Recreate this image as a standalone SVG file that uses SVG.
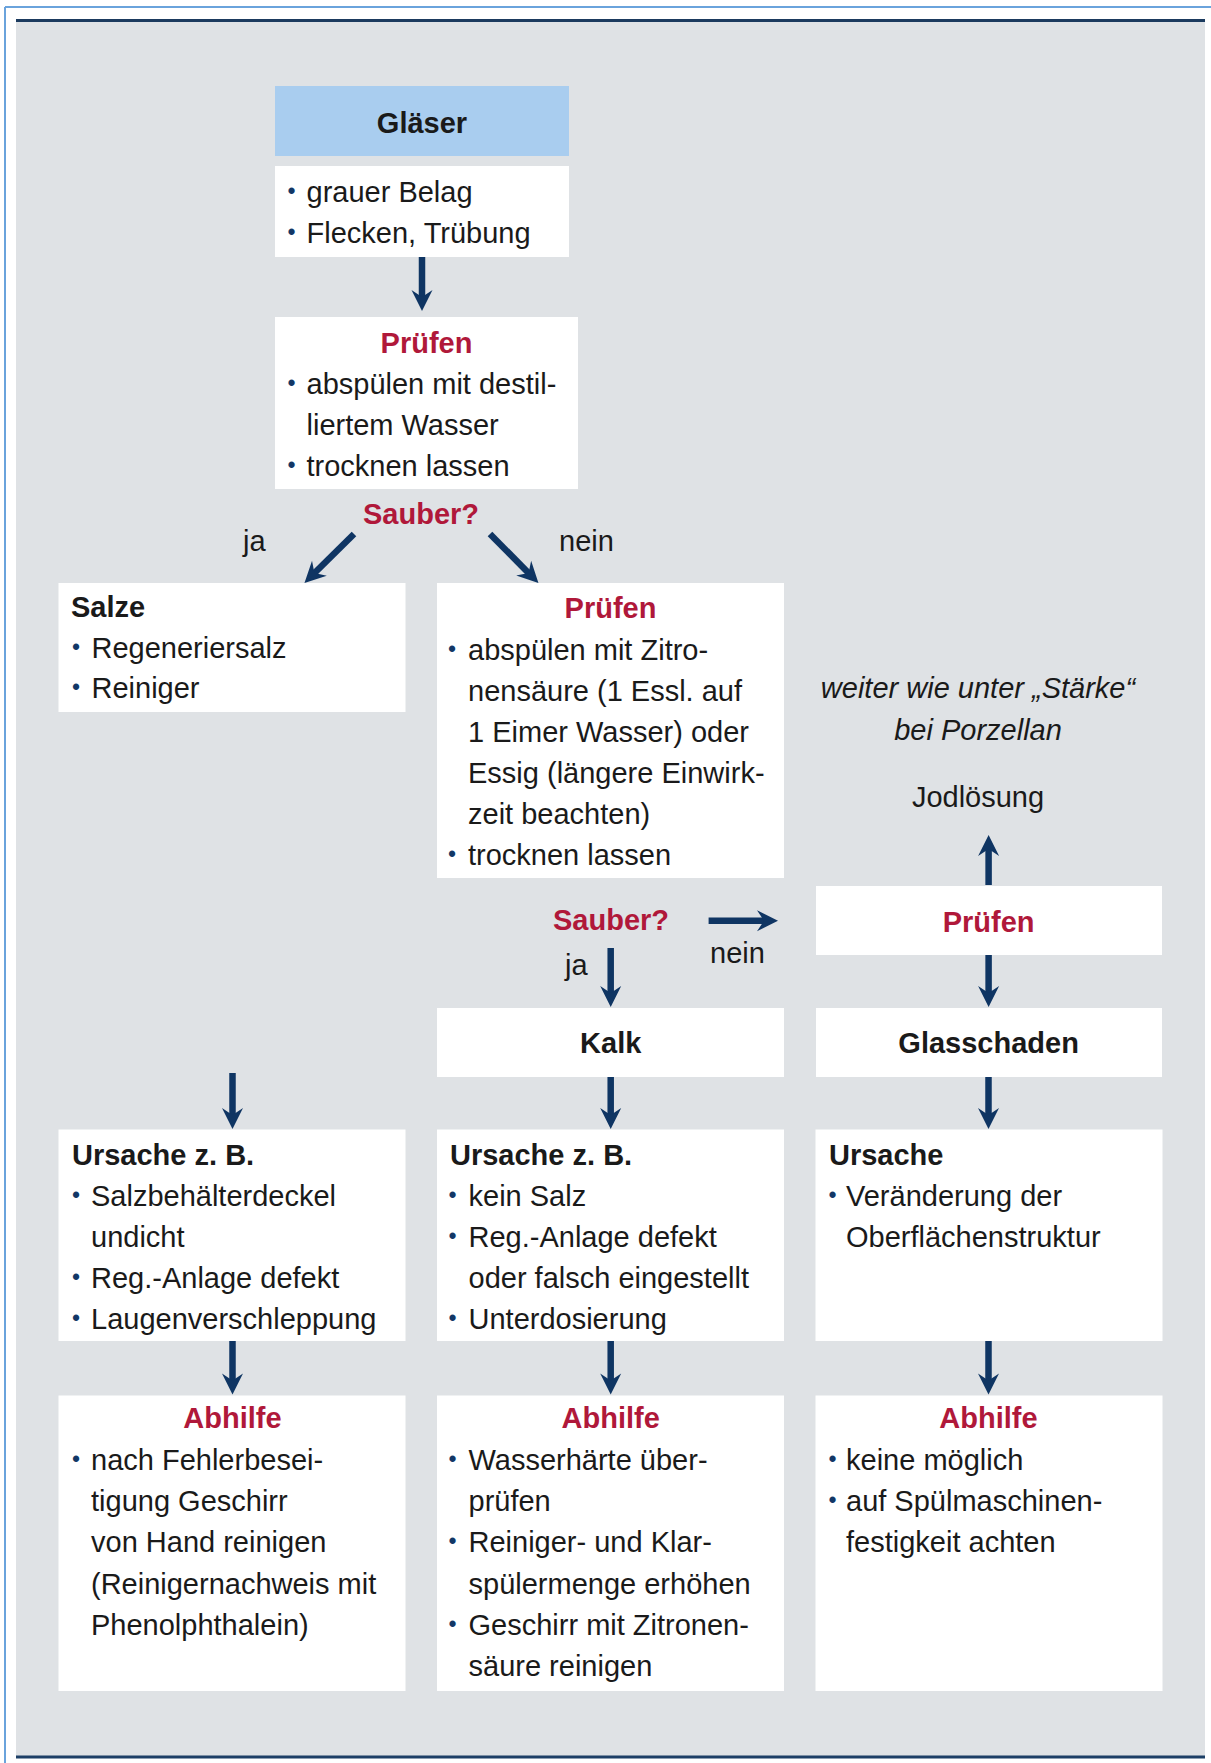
<svg xmlns="http://www.w3.org/2000/svg" width="1211" height="1763" viewBox="0 0 1211 1763">
  <style>
    text { font-family: "Liberation Sans", Arial, sans-serif; font-size: 29px; fill: #1a1a1a; }
    .hd { font-weight: bold; }
    .red { font-weight: bold; fill: #b0183a; }
    .mid { text-anchor: middle; }
    .it { font-style: italic; }
    .bl { font-size: 23px; fill: #123766; }
    .box { fill: #ffffff; }
    .conn { stroke: #0f3563; stroke-width: 6.5; fill: none; marker-end: url(#head); }
  </style>
  <defs>
    <marker id="head" viewBox="-22 -11 22 22" markerWidth="22" markerHeight="22" refX="-12" refY="0" orient="auto" markerUnits="userSpaceOnUse">
      <path d="M0,0 L-21,-10.5 L-14,0 L-21,10.5 Z" fill="#0f3563"/>
    </marker>
  </defs>

  <!-- page frame and panel -->
  <g id="frame">
    <line x1="5" y1="7" x2="1211" y2="7" stroke="#6aa3dc" stroke-width="2"/>
    <line x1="5" y1="7" x2="5" y2="1763" stroke="#6aa3dc" stroke-width="2"/>
    <rect x="16" y="20" width="1189" height="1737" fill="#dfe2e5"/>
    <line x1="16" y1="20.5" x2="1205" y2="20.5" stroke="#1b3a5e" stroke-width="3"/>
    <line x1="16" y1="1757" x2="1205" y2="1757" stroke="#1d3f66" stroke-width="3"/>
  </g>

  <!-- connectors -->
  <g id="connectors">
    <line class="conn" x1="422" y1="257" x2="422" y2="299"/>
    <line class="conn" x1="354" y1="534" x2="313" y2="574.5"/>
    <line class="conn" x1="490" y1="534" x2="530" y2="574.5"/>
    <line class="conn" x1="988.6" y1="885" x2="988.6" y2="847"/>
    <line class="conn" x1="708.6" y1="920.7" x2="766" y2="920.7"/>
    <line class="conn" x1="610.7" y1="948" x2="610.7" y2="995"/>
    <line class="conn" x1="988.6" y1="955" x2="988.6" y2="995"/>
    <line class="conn" x1="232.5" y1="1073" x2="232.5" y2="1117"/>
    <line class="conn" x1="610.7" y1="1077" x2="610.7" y2="1117"/>
    <line class="conn" x1="988.5" y1="1077" x2="988.5" y2="1117"/>
    <line class="conn" x1="232.5" y1="1341" x2="232.5" y2="1382.5"/>
    <line class="conn" x1="610.7" y1="1341" x2="610.7" y2="1382.5"/>
    <line class="conn" x1="988.5" y1="1341" x2="988.5" y2="1382.5"/>
  </g>

  <!-- decision labels -->
  <g id="decision-1">
    <text class="red mid" x="421" y="524">Sauber?</text>
    <text x="243" y="551">ja</text>
    <text x="559" y="551">nein</text>
  </g>
  <g id="decision-2">
    <text class="red mid" x="611" y="930">Sauber?</text>
    <text x="565" y="975">ja</text>
    <text x="710" y="963">nein</text>
  </g>

  <g id="node-glaeser">
    <rect x="275" y="86" width="294" height="70" fill="#a9cdef"/>
    <text class="hd mid" x="422" y="133">Gläser</text>
  </g>

  <g id="node-symptome">
    <rect class="box" x="275" y="166" width="294" height="91"/>
    <text class="bl" x="287.5" y="199">•</text>
    <text x="306.5" y="202">grauer Belag</text>
    <text class="bl" x="287.5" y="240">•</text>
    <text x="306.5" y="243">Flecken, Trübung</text>
  </g>

  <g id="node-pruefen-1">
    <rect class="box" x="275" y="317" width="303" height="172"/>
    <text class="red mid" x="426.5" y="353">Prüfen</text>
    <text class="bl" x="287.5" y="391">•</text>
    <text x="306.5" y="394">abspülen mit destil-</text>
    <text x="306.5" y="435">liertem Wasser</text>
    <text class="bl" x="287.5" y="473">•</text>
    <text x="306.5" y="476">trocknen lassen</text>
  </g>

  <g id="node-salze">
    <rect class="box" x="58.5" y="583" width="347" height="129"/>
    <text class="hd" x="71" y="617">Salze</text>
    <text class="bl" x="72" y="655">•</text>
    <text x="91.5" y="658">Regeneriersalz</text>
    <text class="bl" x="72" y="695">•</text>
    <text x="91.5" y="698">Reiniger</text>
  </g>

  <g id="node-pruefen-2">
    <rect class="box" x="437" y="583" width="347" height="295"/>
    <text class="red mid" x="610.5" y="618">Prüfen</text>
    <text class="bl" x="448" y="657">•</text>
    <text x="468" y="660">abspülen mit Zitro-</text>
    <text x="468" y="701">nensäure (1 Essl. auf</text>
    <text x="468" y="742">1 Eimer Wasser) oder</text>
    <text x="468" y="783">Essig (längere Einwirk-</text>
    <text x="468" y="824">zeit beachten)</text>
    <text class="bl" x="448" y="862">•</text>
    <text x="468" y="865">trocknen lassen</text>
  </g>

  <g id="node-staerke">
    <text class="it mid" x="978" y="698">weiter wie unter „Stärke“</text>
    <text class="it mid" x="978" y="740">bei Porzellan</text>
  </g>

  <g id="node-jodloesung">
    <text class="mid" x="978" y="807">Jodlösung</text>
  </g>

  <g id="node-pruefen-3">
    <rect class="box" x="816" y="886" width="346" height="69"/>
    <text class="red mid" x="988.6" y="932">Prüfen</text>
  </g>

  <g id="node-kalk">
    <rect class="box" x="437" y="1008" width="347" height="69"/>
    <text class="hd mid" x="610.7" y="1053">Kalk</text>
  </g>

  <g id="node-glasschaden">
    <rect class="box" x="816" y="1008" width="346" height="69"/>
    <text class="hd mid" x="988.6" y="1053">Glasschaden</text>
  </g>

  <g id="node-ursache-salze">
    <rect class="box" x="58.5" y="1129.5" width="347" height="211.5"/>
    <text class="hd" x="72" y="1165">Ursache z. B.</text>
    <text class="bl" x="72" y="1203">•</text>
    <text x="91" y="1206">Salzbehälterdeckel</text>
    <text x="91" y="1247">undicht</text>
    <text class="bl" x="72" y="1285">•</text>
    <text x="91" y="1288">Reg.-Anlage defekt</text>
    <text class="bl" x="72" y="1326">•</text>
    <text x="91" y="1329">Laugenverschleppung</text>
  </g>

  <g id="node-ursache-kalk">
    <rect class="box" x="437" y="1129.5" width="347" height="211.5"/>
    <text class="hd" x="450" y="1165">Ursache z. B.</text>
    <text class="bl" x="448.5" y="1203">•</text>
    <text x="468.5" y="1206">kein Salz</text>
    <text class="bl" x="448.5" y="1244">•</text>
    <text x="468.5" y="1247">Reg.-Anlage defekt</text>
    <text x="468.5" y="1288">oder falsch eingestellt</text>
    <text class="bl" x="448.5" y="1326">•</text>
    <text x="468.5" y="1329">Unterdosierung</text>
  </g>

  <g id="node-ursache-glas">
    <rect class="box" x="815.5" y="1129.5" width="347" height="211.5"/>
    <text class="hd" x="829" y="1165">Ursache</text>
    <text class="bl" x="828.5" y="1203">•</text>
    <text x="846" y="1206">Veränderung der</text>
    <text x="846" y="1247">Oberflächenstruktur</text>
  </g>

  <g id="node-abhilfe-salze">
    <rect class="box" x="58.5" y="1395.5" width="347" height="295.5"/>
    <text class="red mid" x="232.5" y="1428">Abhilfe</text>
    <text class="bl" x="72" y="1467">•</text>
    <text x="91" y="1470">nach Fehlerbesei-</text>
    <text x="91" y="1511">tigung Geschirr</text>
    <text x="91" y="1552">von Hand reinigen</text>
    <text x="91" y="1594">(Reinigernachweis mit</text>
    <text x="91" y="1635">Phenolphthalein)</text>
  </g>

  <g id="node-abhilfe-kalk">
    <rect class="box" x="437" y="1395.5" width="347" height="295.5"/>
    <text class="red mid" x="610.7" y="1428">Abhilfe</text>
    <text class="bl" x="448.5" y="1467">•</text>
    <text x="468.5" y="1470">Wasserhärte über-</text>
    <text x="468.5" y="1511">prüfen</text>
    <text class="bl" x="448.5" y="1549">•</text>
    <text x="468.5" y="1552">Reiniger- und Klar-</text>
    <text x="468.5" y="1594">spülermenge erhöhen</text>
    <text class="bl" x="448.5" y="1632">•</text>
    <text x="468.5" y="1635">Geschirr mit Zitronen-</text>
    <text x="468.5" y="1676">säure reinigen</text>
  </g>

  <g id="node-abhilfe-glas">
    <rect class="box" x="815.5" y="1395.5" width="347" height="295.5"/>
    <text class="red mid" x="988.5" y="1428">Abhilfe</text>
    <text class="bl" x="828.5" y="1467">•</text>
    <text x="846" y="1470">keine möglich</text>
    <text class="bl" x="828.5" y="1508">•</text>
    <text x="846" y="1511">auf Spülmaschinen-</text>
    <text x="846" y="1552">festigkeit achten</text>
  </g>
</svg>
